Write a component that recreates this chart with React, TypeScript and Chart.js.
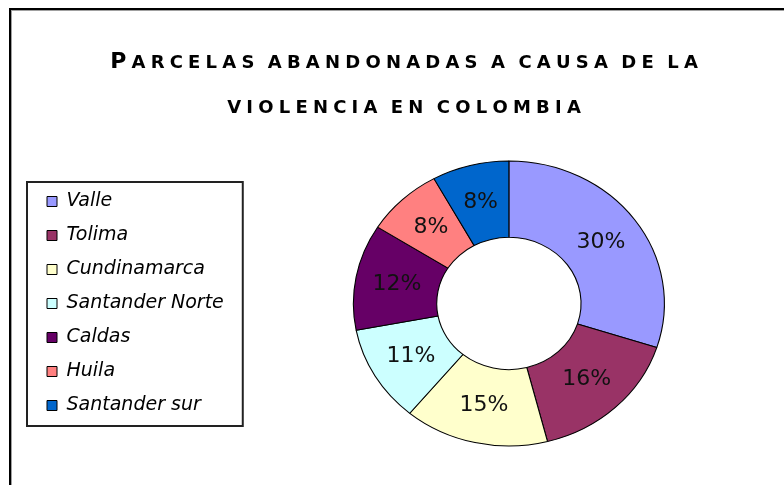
import React, { useEffect, useRef } from 'react';
import { Chart, registerables } from 'chart.js';

Chart.register(...registerables);

// ---- data ----
const CATEGORIES = ['Valle', 'Tolima', 'Cundinamarca', 'Santander Norte', 'Caldas', 'Huila', 'Santander sur'];
const VALUES = [30, 16, 15, 11, 12, 8, 8];
const COLORS = ['#9999FF', '#993366', '#FFFFCC', '#CCFFFF', '#660066', '#FF8080', '#0066CC'];
const TITLE_LINES = ['Parcelas abandonadas a causa de la', 'violencia en colombia'];

const W = 784;
const H = 485;
const SX = 155.5 / 142.5; // horizontal stretch of the doughnut (ellipse)

// draws text in small capitals (capital letters large, lower-case letters as small capitals)
function drawSmallCaps(ctx: CanvasRenderingContext2D, text: string, cx: number, y: number) {
  const big = 'bold 22px "DejaVu Sans"';
  const small = 'bold 18px "DejaVu Sans"';
  const spacing = 5.2;
  const chars = Array.from(text).map((c) => {
    const isUpper = c !== c.toLowerCase();
    const font = isUpper ? big : small;
    const ch = c.toUpperCase();
    ctx.font = font;
    return { ch, font, w: ctx.measureText(ch).width + (c === ' ' ? 2 : spacing) };
  });
  const total = chars.reduce((s, c) => s + c.w, 0) - spacing;
  let x = cx - total / 2;
  chars.forEach((c) => {
    ctx.font = c.font;
    ctx.fillText(c.ch, x, y);
    x += c.w;
  });
}

const framePlugin = {
  id: 'frame',
  beforeDraw(chart: any) {
    const ctx = chart.ctx;
    ctx.save();
    ctx.fillStyle = '#ffffff';
    ctx.fillRect(0, 0, W, H);
    ctx.fillStyle = '#000000';
    ctx.fillRect(9, 8, 2, H - 8);
    ctx.fillRect(9, 8, W - 9, 2);
    ctx.fillStyle = '#a0a0a0';
    ctx.fillRect(11, 10, 1, H - 10);
    ctx.fillRect(11, 10, W - 11, 1);
    // title
    ctx.fillStyle = '#000000';
    ctx.textAlign = 'left';
    ctx.textBaseline = 'alphabetic';
    TITLE_LINES.forEach((t, i) => drawSmallCaps(ctx, t, 404, 68 + i * 45));
    ctx.restore();
  },
  afterDraw(chart: any) {
    const lg = chart.legend;
    if (!lg || !lg.legendHitBoxes || !lg.legendHitBoxes.length) return;
    const hb = lg.legendHitBoxes;
    const left = Math.min(...hb.map((h: any) => h.left)) - 20;
    const right = Math.max(...hb.map((h: any) => h.left + h.width)) + 19;
    const top = hb[0].top - 10;
    const last = hb[hb.length - 1];
    const bottom = last.top + last.height + 11;
    const ctx = chart.ctx;
    ctx.save();
    ctx.strokeStyle = '#222222';
    ctx.lineWidth = 2;
    ctx.strokeRect(left, top, right - left, bottom - top);
    ctx.restore();
  },
};

const ellipsePlugin = {
  id: 'ellipse',
  beforeDatasetsDraw(chart: any) {
    const a = chart.chartArea;
    const cx = (a.left + a.right) / 2;
    const ctx = chart.ctx;
    ctx.save();
    ctx.translate(cx, 0);
    ctx.scale(SX, 1);
    ctx.translate(-cx, 0);
  },
  afterDatasetsDraw(chart: any) {
    const ctx = chart.ctx;
    ctx.restore();
    const a = chart.chartArea;
    const cx = (a.left + a.right) / 2;
    const meta = chart.getDatasetMeta(0);
    const data = chart.data.datasets[0].data as number[];
    const total = data.reduce((s, v) => s + v, 0);
    ctx.save();
    ctx.font = '22px "DejaVu Sans"';
    ctx.fillStyle = '#111111';
    ctx.textAlign = 'center';
    ctx.textBaseline = 'middle';
    meta.data.forEach((arc: any, i: number) => {
      const p = arc.tooltipPosition(false);
      const x = cx + (p.x - cx) * SX;
      ctx.fillText(Math.round((data[i] / total) * 100) + '%', x, p.y);
    });
    ctx.restore();
  },
};

export default function App() {
  const ref = useRef<HTMLCanvasElement>(null);
  useEffect(() => {
    if (!ref.current) return;
    const chart = new Chart(ref.current, {
      type: 'doughnut',
      data: {
        labels: CATEGORIES,
        datasets: [
          {
            data: VALUES,
            backgroundColor: COLORS,
            borderColor: '#000000',
            borderWidth: 1,
            radius: 142.5,
            cutout: 71,
            clip: false,
          } as any,
        ],
      },
      options: {
        responsive: false,
        animation: false,
        devicePixelRatio: 1,
        events: [],
        layout: { padding: { top: 150, bottom: 28, left: 32, right: 0 } },
        plugins: {
          title: { display: false },
          tooltip: { enabled: false },
          legend: {
            display: true,
            position: 'left',
            align: 'center',
            labels: {
              boxWidth: 10,
              boxHeight: 10,
              padding: 15,
              color: '#000000',
              font: { family: 'DejaVu Sans', size: 19, style: 'italic' },
            },
          },
        },
      } as any,
      plugins: [framePlugin, ellipsePlugin],
    });
    return () => chart.destroy();
  }, []);
  return (
    <div style={{ position: 'absolute', left: 0, top: 0, width: W, height: H }}>
      <canvas ref={ref} width={W} height={H} style={{ display: 'block' }} />
    </div>
  );
}
